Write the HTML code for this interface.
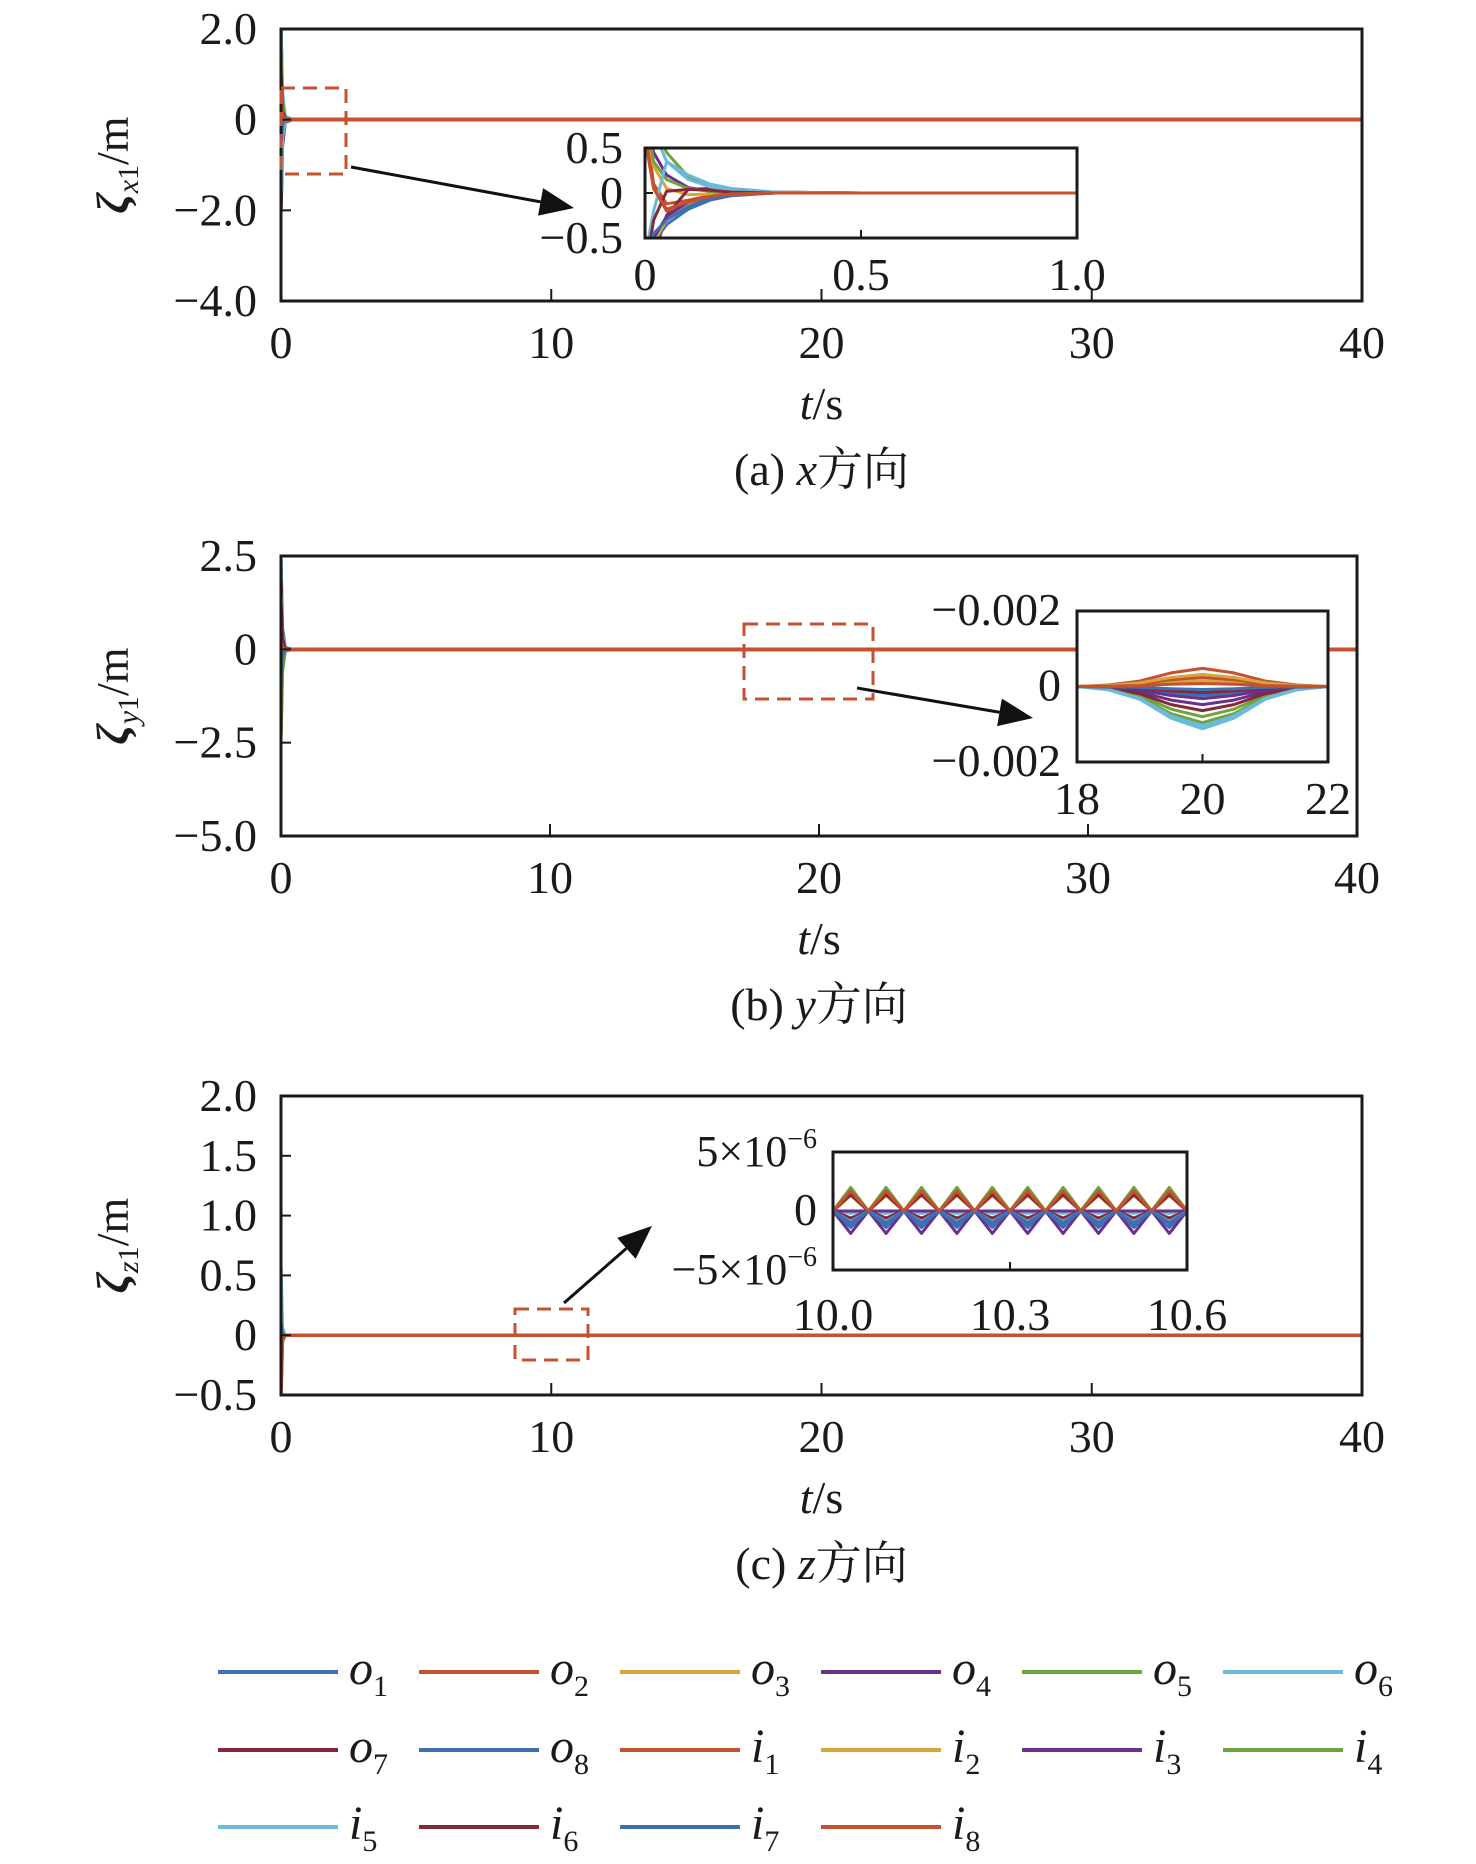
<!DOCTYPE html>
<html><head><meta charset="utf-8">
<style>
html,body{margin:0;padding:0;background:#fff;}
svg{display:block;font-family:"Liberation Serif","Noto Serif CJK SC",serif;}
</style></head>
<body>
<svg id="fig" width="1476" height="1864" viewBox="0 0 1476 1864" xmlns="http://www.w3.org/2000/svg"></svg>
<script>
// ---- data ----
const seriesNames = ["o1","o2","o3","o4","o5","o6","o7","o8","i1","i2","i3","i4","i5","i6","i7","i8"];
const seriesColors = ["#3d6fb3","#c4512f","#d8a43c","#6b2f8c","#6ea33d","#6cbadb","#85283a","#3d6fb3","#c4512f","#d8a43c","#6b2f8c","#6ea33d","#6cbadb","#85283a","#3d6fb3","#c4512f"];
// main panel time samples
const tMain = [0, 0.05, 0.15, 0.4, 1, 40];
const xMain = [
 [-2.0,-0.6,-0.05,0,0,0],[0.8,0.2,0.02,0,0,0],[1.2,0.3,0.01,0,0,0],[-1.0,-0.3,0,0,0,0],
 [2.0,0.5,0.05,0,0,0],[1.9,0.6,0.08,0,0,0],[-1.9,-0.5,-0.05,0,0,0],[-1.4,-0.4,-0.02,0,0,0],
 [0.6,0.0,0,0,0,0],[-0.8,-0.2,0,0,0,0],[-1.2,-0.3,0,0,0,0],[1.5,0.4,0.02,0,0,0],
 [-1.6,-0.4,-0.02,0,0,0],[1.0,0.2,0.02,0,0,0],[-0.5,-0.1,0,0,0,0],[0.7,0.1,0,0,0,0]];
const yMain = [
 [-1.0,-0.3,0,0,0,0],[1.0,0.2,0,0,0,0],[0.5,0.1,0,0,0,0],[-0.6,-0.1,0,0,0,0],
 [-2.3,-0.6,-0.05,0,0,0],[2.4,0.6,0.05,0,0,0],[1.8,0.5,0.03,0,0,0],[-1.5,-0.4,0,0,0,0],
 [0.3,0.05,0,0,0,0],[-0.4,-0.1,0,0,0,0],[0.8,0.2,0,0,0,0],[-1.8,-0.5,0,0,0,0],
 [1.5,0.4,0,0,0,0],[1.2,0.3,0,0,0,0],[-0.7,-0.2,0,0,0,0],[0.2,0.05,0,0,0,0]];
const zMain = [
 [0.3,0.05,0,0,0,0],[-0.5,-0.05,0,0,0,0],[0.1,0.02,0,0,0,0],[-0.2,-0.03,0,0,0,0],
 [0.4,0.05,0,0,0,0],[0.55,0.06,0,0,0,0],[-0.3,-0.04,0,0,0,0],[0.2,0.02,0,0,0,0],
 [-0.45,-0.05,0,0,0,0],[0.1,0.01,0,0,0,0],[-0.1,-0.01,0,0,0,0],[0.2,0.02,0,0,0,0],
 [0.3,0.03,0,0,0,0],[-0.2,-0.02,0,0,0,0],[0.1,0.01,0,0,0,0],[-0.4,-0.04,0,0,0,0]];
// inset a
const tInsA = [0, 0.02, 0.05, 0.1, 0.15, 0.2, 0.3, 0.5, 1.0];
const xInsA = [
 [-1.2,-0.5,-0.28,-0.1,-0.03,-0.01,0,0,0],[0.8,0.1,-0.12,-0.08,-0.03,-0.01,0,0,0],
 [0.6,0.3,0.05,-0.02,-0.01,0,0,0,0],[0.9,0.45,0.2,0.06,0.02,0.01,0,0,0],
 [1.5,0.8,0.45,0.18,0.07,0.03,0.01,0,0],[1.6,0.7,0.35,0.2,0.1,0.05,0.01,0,0],
 [-1.5,-0.7,-0.25,0.04,0.05,0.03,0.01,0,0],[-1.0,-0.55,-0.35,-0.18,-0.08,-0.03,0,0,0],
 [0.7,0.05,-0.2,-0.12,-0.05,-0.02,0,0,0],[-0.9,-0.55,-0.3,-0.12,-0.05,-0.02,0,0,0],
 [-0.8,-0.5,-0.26,-0.1,-0.04,-0.01,0,0,0],[0.9,0.35,0.15,0.05,0.02,0,0,0,0],
 [-0.7,-0.2,0.35,0.15,0.07,0.03,0.01,0,0],[-0.9,-0.3,0.02,0.04,0.03,0.01,0,0,0],
 [-1.1,-0.45,-0.3,-0.15,-0.06,-0.02,0,0,0],[0.6,0.05,-0.18,-0.1,-0.04,-0.01,0,0,0]];
// inset b
const tInsB = [18, 18.5, 19, 19.5, 20, 20.5, 21, 21.5, 22];
const peakB = [-0.00025,0.0006,0.0002,-0.0006,-0.0010,-0.0014,-0.0008,-0.0003,0.0003,0.0004,-0.0004,-0.0012,-0.0013,-0.0002,-0.0001,0.0001];
const shapeB = [0, 0.08, 0.3, 0.75, 1, 0.75, 0.3, 0.08, 0];
// inset c
const tInsC0 = 10.0, tInsCStep = 0.015;
const shapeC = [0,0.5,1,0.5,0,0.5,1,0.5,0,0.5,1,0.5,0,0.5,1,0.5,0,0.5,1,0.5,0,0.5,1,0.5,0,0.5,1,0.5,0,0.5,1,0.5,0,0.5,1,0.5,0,0.5,1,0.5,0];
const ampC = [-1.4e-6,1.8e-6,1.5e-6,-1.9e-6,2.0e-6,-0.2e-6,-0.6e-6,-1.2e-6,1.6e-6,1.3e-6,0.0,1.9e-6,-0.9e-6,1.4e-6,-1.0e-6,1.7e-6];

const xTicksMain = [0,10,20,30,40];
const yTicksA = [2.0,0,-2.0,-4.0], yLabA = ["2.0","0","\u22122.0","\u22124.0"];
const yTicksB = [2.5,0,-2.5,-5.0], yLabB = ["2.5","0","\u22122.5","\u22125.0"];
const yTicksC = [2.0,1.5,1.0,0.5,0,-0.5], yLabC = ["2.0","1.5","1.0","0.5","0","\u22120.5"];

// ---- helpers ----
const NS = "http://www.w3.org/2000/svg";
const svg = document.getElementById("fig");
function el(tag, attrs, parent, text){
  const e = document.createElementNS(NS, tag);
  for (const k in attrs) e.setAttribute(k, attrs[k]);
  if (text !== undefined) e.textContent = text;
  (parent||svg).appendChild(e);
  return e;
}
function scale(d0,d1,r0,r1){ return v => r0 + (v-d0)/(d1-d0)*(r1-r0); }
let clipId = 0;
function drawSeries(g, sx, sy, ts, vals, color, box, name, w){
  const id = "clip" + (clipId++);
  const cp = el("clipPath",{id:id}, g);
  el("rect",{x:box[0],y:box[1],width:box[2]-box[0],height:box[3]-box[1]}, cp);
  const pts = ts.map((t,i)=>sx(t).toFixed(2)+","+sy(vals[i]).toFixed(2)).join(" ");
  const p = el("polyline",{points:pts, fill:"none", stroke:color, "stroke-width":w||3, "clip-path":"url(#"+id+")", "stroke-linejoin":"round"}, g);
  
  
}
function frame(g, box, name){
  const r = el("rect",{x:box[0],y:box[1],width:box[2]-box[0],height:box[3]-box[1],fill:"none",stroke:"#1a1a1a","stroke-width":3}, g);
  
  
}
function txt(g, x, y, s, size, anchor, name){
  const t = el("text",{x:x,y:y,"font-size":size,"text-anchor":anchor||"middle",fill:"#1a1a1a"}, g, s);
  
  
  return t;
}

function mainPanel(key, box, yd, yTicks, yLab, dataMain, ylabelSub, capLetter, capAxis, yOff){
  const g = el("g",{}, svg);
  
  
  const sx = scale(0,40,box[0],box[2]);
  const sy = scale(yd[0],yd[1],box[3],box[1]);
  dataMain.forEach((v,i)=>drawSeries(g, sx, sy, tMain, v, seriesColors[i], box, "series-"+seriesNames[i]+"-"+key, 3.5));
  frame(g, box, "plot-frame-"+key);
  xTicksMain.forEach(t=>{
    el("line",{x1:sx(t),x2:sx(t),y1:box[3],y2:box[3]-12,stroke:"#1a1a1a","stroke-width":2}, g);
    txt(g, sx(t), box[3]+57, String(t), 46, "middle", "x-tick-"+t);
  });
  yTicks.forEach((v,i)=>{
    el("line",{x1:box[0],x2:box[0]+10,y1:sy(v),y2:sy(v),stroke:"#1a1a1a","stroke-width":2}, g);
    txt(g, box[0]-24, sy(v)+15, yLab[i], 46, "end", "y-tick-"+yLab[i]);
  });
  const cy = (box[1]+box[3])/2 + yOff;
  const yl = el("text",{transform:"translate(128,"+cy+") rotate(-90)","font-size":46,"text-anchor":"middle",fill:"#1a1a1a"}, g);
  
  
  el("tspan",{"font-weight":"bold","font-style":"italic"}, yl, "\u03b6");
  el("tspan",{"font-size":30,"font-style":"italic",dy:10}, yl, ylabelSub);
  el("tspan",{"font-size":30,dy:0}, yl, "1");
  el("tspan",{dy:-10}, yl, "/m");
  const xl = el("text",{x:(box[0]+box[2])/2, y:box[3]+118,"font-size":46,"text-anchor":"middle",fill:"#1a1a1a"}, g);
  
  
  el("tspan",{"font-style":"italic"}, xl, "t");
  el("tspan",{}, xl, "/s");
  const cap = el("text",{x:(box[0]+box[2])/2, y:box[3]+184,"font-size":46,"text-anchor":"middle",fill:"#1a1a1a"}, g);
  
  
  el("tspan",{}, cap, "("+capLetter+") ");
  el("tspan",{"font-style":"italic"}, cap, capAxis);
  el("tspan",{"font-family":"Noto Serif CJK SC, serif"}, cap, "方向");
  return {g, sx, sy};
}
function dashBox(g, x0,y0,x1,y1,name){
  const r = el("rect",{x:x0,y:y0,width:x1-x0,height:y1-y0,fill:"none",stroke:"#c4512f","stroke-width":3,"stroke-dasharray":"14,8"}, g);
  
  
}
function arrow(g, x0,y0,x1,y1,name){
  const a = Math.atan2(y1-y0,x1-x0), L=34, W=14;
  const bx = x1-L*Math.cos(a), by = y1-L*Math.sin(a);
  const grp = el("g",{}, g);
  
  
  el("line",{x1:x0,y1:y0,x2:bx,y2:by,stroke:"#111","stroke-width":3}, grp);
  el("polygon",{points:`${x1},${y1} ${bx-W*Math.sin(a)},${by+W*Math.cos(a)} ${bx+W*Math.sin(a)},${by-W*Math.cos(a)}`,fill:"#111"}, grp);
}

// ---- panel a ----
const A = mainPanel("a",[281,29,1362,301],[-4,2],yTicksA,yLabA,xMain,"x","a","x",0);
dashBox(A.g,281,88,346,174,"zoom-region-a");
arrow(A.g,351,167,574,208,"zoom-arrow-a");
(function(){
  const box=[645,148,1077,238];
  const sx=scale(0,1,box[0],box[2]), sy=scale(-0.5,0.5,box[3],box[1]);
  const g=el("g",{},A.g);  
  el("rect",{x:box[0],y:box[1],width:box[2]-box[0],height:box[3]-box[1],fill:"#fff"},g);
  xInsA.forEach((v,i)=>drawSeries(g,sx,sy,tInsA,v,seriesColors[i],box,"inset-a-"+seriesNames[i]));
  frame(g,box,"inset-a-frame");
  [[0,"0"],[0.5,"0.5"],[1.0,"1.0"]].forEach(([t,s])=>{el("line",{x1:sx(t),x2:sx(t),y1:box[3],y2:box[3]-8,stroke:"#1a1a1a","stroke-width":2},g);txt(g,sx(t),box[3]+52,s,46,"middle","inset-a-x-tick-"+s);});
  [[0.5,"0.5"],[0,"0"],[-0.5,"\u22120.5"]].forEach(([v,s])=>{el("line",{x1:box[0],x2:box[0]+8,y1:sy(v),y2:sy(v),stroke:"#1a1a1a","stroke-width":2},g);txt(g,box[0]-22,sy(v)+15,s,46,"end","inset-a-y-tick-"+s);});
})();

// ---- panel b ----
const B = mainPanel("b",[281,556,1357,836],[-5,2.5],yTicksB,yLabB,yMain,"y","b","y",0);
dashBox(B.g,744,624,873,699,"zoom-region-b");
arrow(B.g,857,688,1033,718,"zoom-arrow-b");
(function(){
  const box=[1077,611,1328,762];
  const sx=scale(18,22,box[0],box[2]), sy=scale(-0.0025,0.0025,box[3],box[1]);
  const g=el("g",{},B.g);  
  el("rect",{x:box[0],y:box[1],width:box[2]-box[0],height:box[3]-box[1],fill:"#fff"},g);
  peakB.forEach((p,i)=>drawSeries(g,sx,sy,tInsB,shapeB.map(s=>s*p),seriesColors[i],box,"inset-b-"+seriesNames[i]));
  frame(g,box,"inset-b-frame");
  [18,20,22].forEach(t=>{el("line",{x1:sx(t),x2:sx(t),y1:box[3],y2:box[3]-8,stroke:"#1a1a1a","stroke-width":2},g);txt(g,sx(t),box[3]+52,String(t),46,"middle","inset-b-x-tick-"+t);});
  txt(g,box[0]-16,box[1]+14,"\u22120.002",46,"end","inset-b-y-tick-top");
  txt(g,box[0]-16,sy(0)+14,"0",46,"end","inset-b-y-tick-0");
  txt(g,box[0]-16,box[3]+14,"\u22120.002",46,"end","inset-b-y-tick-bottom");
})();

// ---- panel c ----
const C = mainPanel("c",[281,1096,1362,1395],[-0.5,2.0],yTicksC,yLabC,zMain,"z","c","z",0);
dashBox(C.g,515,1309,588,1360,"zoom-region-c");
arrow(C.g,564,1303,652,1226,"zoom-arrow-c");
(function(){
  const box=[833,1152,1187,1270];
  const sx=scale(10.0,10.6,box[0],box[2]), sy=scale(-5e-6,5e-6,box[3],box[1]);
  const g=el("g",{},C.g);  
  el("rect",{x:box[0],y:box[1],width:box[2]-box[0],height:box[3]-box[1],fill:"#fff"},g);
  const ts = shapeC.map((s,k)=>tInsC0+k*tInsCStep);
  ampC.forEach((a,i)=>drawSeries(g,sx,sy,ts,shapeC.map(s=>s*a),seriesColors[i],box,"inset-c-"+seriesNames[i]));
  frame(g,box,"inset-c-frame");
  [[10.0,"10.0"],[10.3,"10.3"],[10.6,"10.6"]].forEach(([t,s])=>{el("line",{x1:sx(t),x2:sx(t),y1:box[3],y2:box[3]-8,stroke:"#1a1a1a","stroke-width":2},g);txt(g,sx(t),box[3]+60,s,46,"middle","inset-c-x-tick-"+s);});
  const t1=txt(g,box[0]-16,box[1]+14,"",44,"end","inset-c-y-tick-top");
  el("tspan",{},t1,"5\u00d710"); el("tspan",{"font-size":28,dy:-18},t1,"\u22126");
  txt(g,box[0]-16,sy(0)+14,"0",46,"end","inset-c-y-tick-0");
  const t2=txt(g,box[0]-16,box[3]+14,"",44,"end","inset-c-y-tick-bottom");
  el("tspan",{},t2,"\u22125\u00d710"); el("tspan",{"font-size":28,dy:-18},t2,"\u22126");
})();

// ---- legend ----
const lg = el("g",{}, svg);


const colX = [218,419,620,821,1022,1223], rowY = [1672,1750,1827];
seriesNames.forEach((n,i)=>{
  const c=i%6, r=Math.floor(i/6), x=colX[c], y=rowY[r];
  const e=el("g",{},lg);
  
  
  el("line",{x1:x,x2:x+120,y1:y,y2:y,stroke:seriesColors[i],"stroke-width":4},e);
  const t=el("text",{x:x+131,y:y+12,"font-size":48,fill:"#1a1a1a"},e);
  el("tspan",{"font-style":"italic"},t,n[0]);
  el("tspan",{"font-size":30,dy:12},t,n.slice(1));
});
</script>
</body></html>
